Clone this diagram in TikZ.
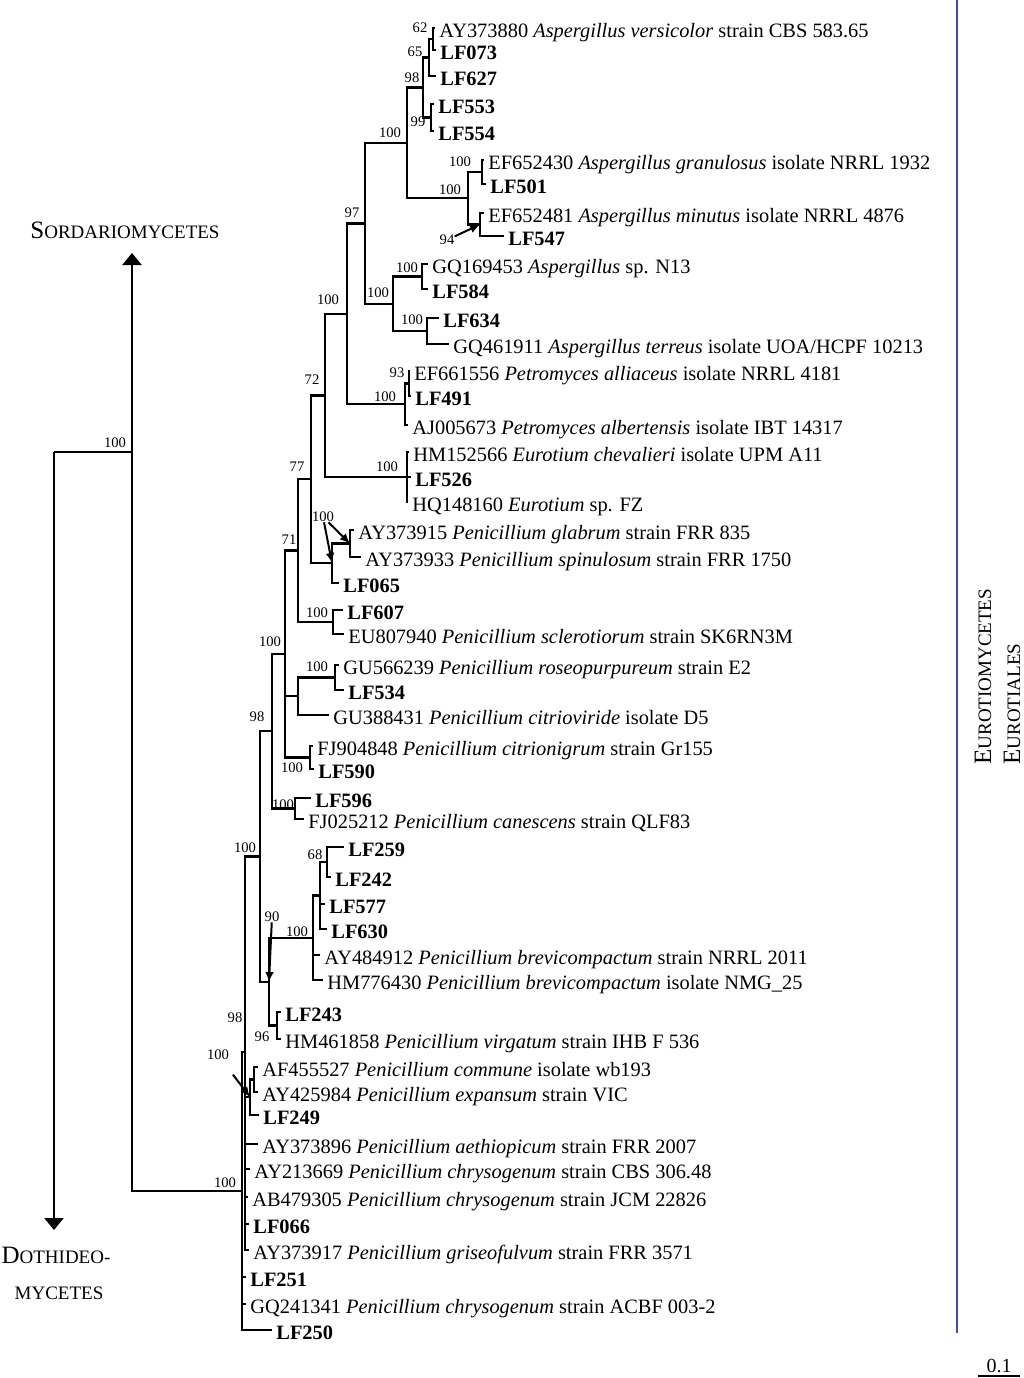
\documentclass[tikz,border=0pt]{standalone}
\usepackage{fontspec}
\setmainfont{Liberation Serif}
\usepackage{xcolor}
\usepackage{tikz}
\usetikzlibrary{arrows.meta,positioning,calc}
\definecolor{barblue}{RGB}{72,72,168}
\newcommand{\cladename}[2]{{\fontsize{12.5}{15}\selectfont #1}{\fontsize{9.5}{15}\selectfont #2}}
\tikzset{
leaf/.style = {anchor=west, inner xsep=2pt, inner ysep=0pt, text height=9.4pt, text depth=0pt, font=\fontsize{10.2}{12}\selectfont},
boot/.style = {inner sep=0pt, font=\fontsize{7.3}{9}\selectfont},
branch/.style = {line width=1.2pt},
pointer/.style = {line width=1pt, -{Latex[length=5pt,width=4.4pt]}},
outgroup/.style = {line width=1.2pt, -{Triangle[length=6pt,width=9.5pt]}},
clade/.style = {inner sep=0pt},
cladebar/.style = {barblue, line width=0.7pt},
}

\begin{document}
\begin{tikzpicture}[x=0.5pt, y=-0.5pt]
    \useasboundingbox (0,0) rectangle (1024,1378);

    \node [leaf] (AY373880) at (435,28) {AY373880 \textit{Aspergillus versicolor} strain CBS 583.65};
    \node [leaf] (LF073) at (436,50) {\textbf{LF073}};
    \node [leaf] (LF627) at (436,76) {\textbf{LF627}};
    \node [leaf] (LF553) at (434,104) {\textbf{LF553}};
    \node [leaf] (LF554) at (434,131) {\textbf{LF554}};
    \node [leaf] (EF652430) at (484,160) {EF652430 \textit{Aspergillus granulosus} isolate NRRL 1932};
    \node [leaf] (LF501) at (486,184) {\textbf{LF501}};
    \node [leaf] (EF652481) at (484,213) {EF652481 \textit{Aspergillus minutus} isolate NRRL 4876};
    \node [leaf] (LF547) at (504,236) {\textbf{LF547}};
    \node [leaf] (GQ169453) at (428,264) {GQ169453 \textit{Aspergillus} sp. N13};
    \node [leaf] (LF584) at (428,289) {\textbf{LF584}};
    \node [leaf] (LF634) at (439,318) {\textbf{LF634}};
    \node [leaf] (GQ461911) at (449,344) {GQ461911 \textit{Aspergillus terreus} isolate UOA/HCPF 10213};
    \node [leaf] (EF661556) at (410,371) {EF661556 \textit{Petromyces alliaceus} isolate NRRL 4181};
    \node [leaf] (LF491) at (411,396) {\textbf{LF491}};
    \node [leaf] (AJ005673) at (408,425) {AJ005673 \textit{Petromyces albertensis} isolate IBT 14317};
    \node [leaf] (HM152566) at (409,452) {HM152566 \textit{Eurotium chevalieri} isolate UPM A11};
    \node [leaf] (LF526) at (411,477) {\textbf{LF526}};
    \node [leaf] (HQ148160) at (408,502) {HQ148160 \textit{Eurotium} sp. FZ};
    \node [leaf] (AY373915) at (354,530) {AY373915 \textit{Penicillium glabrum} strain FRR 835};
    \node [leaf] (AY373933) at (361,557) {AY373933 \textit{Penicillium spinulosum} strain FRR 1750};
    \node [leaf] (LF065) at (339,583) {\textbf{LF065}};
    \node [leaf] (LF607) at (343,610) {\textbf{LF607}};
    \node [leaf] (EU807940) at (344,634) {EU807940 \textit{Penicillium sclerotiorum} strain SK6RN3M};
    \node [leaf] (GU566239) at (339,665) {GU566239 \textit{Penicillium roseopurpureum} strain E2};
    \node [leaf] (LF534) at (344,690) {\textbf{LF534}};
    \node [leaf] (GU388431) at (329,715) {GU388431 \textit{Penicillium citrioviride} isolate D5};
    \node [leaf] (FJ904848) at (313,746) {FJ904848 \textit{Penicillium citrionigrum} strain Gr155};
    \node [leaf] (LF590) at (314,769) {\textbf{LF590}};
    \node [leaf] (LF596) at (311,798) {\textbf{LF596}};
    \node [leaf] (FJ025212) at (304,819) {FJ025212 \textit{Penicillium canescens} strain QLF83};
    \node [leaf] (LF259) at (344,847) {\textbf{LF259}};
    \node [leaf] (LF242) at (331,877) {\textbf{LF242}};
    \node [leaf] (LF577) at (325,904) {\textbf{LF577}};
    \node [leaf] (LF630) at (327,929) {\textbf{LF630}};
    \node [leaf] (AY484912) at (320,955) {AY484912 \textit{Penicillium brevicompactum} strain NRRL 2011};
    \node [leaf] (HM776430) at (323,980) {HM776430 \textit{Penicillium brevicompactum} isolate NMG\_25};
    \node [leaf] (LF243) at (281,1012) {\textbf{LF243}};
    \node [leaf] (HM461858) at (281,1039) {HM461858 \textit{Penicillium virgatum} strain IHB F 536};
    \node [leaf] (AF455527) at (258,1067) {AF455527 \textit{Penicillium commune} isolate wb193};
    \node [leaf] (AY425984) at (258,1092) {AY425984 \textit{Penicillium expansum} strain VIC};
    \node [leaf] (LF249) at (259,1115) {\textbf{LF249}};
    \node [leaf] (AY373896) at (258,1144) {AY373896 \textit{Penicillium aethiopicum} strain FRR 2007};
    \node [leaf] (AY213669) at (250,1169) {AY213669 \textit{Penicillium chrysogenum} strain CBS 306.48};
    \node [leaf] (AB479305) at (248,1197) {AB479305 \textit{Penicillium chrysogenum} strain JCM 22826};
    \node [leaf] (LF066) at (249,1224) {\textbf{LF066}};
    \node [leaf] (AY373917) at (249,1250) {AY373917 \textit{Penicillium griseofulvum} strain FRR 3571};
    \node [leaf] (LF251) at (246,1277) {\textbf{LF251}};
    \node [leaf] (GQ241341) at (246,1304) {GQ241341 \textit{Penicillium chrysogenum} strain ACBF 003-2};
    \node [leaf] (LF250) at (272,1330) {\textbf{LF250}};

    \coordinate (nVers) at (433,39);
    \coordinate (nVers2) at (429,57.5);
    \coordinate (nLF553) at (431,117.5);
    \coordinate (nVers3) at (423,87.5);
    \coordinate (nGran) at (482,172);
    \coordinate (nMin) at (480,224.5);
    \coordinate (nGranMin) at (468,198);
    \coordinate (nAsp1) at (407,143);
    \coordinate (nN13) at (422,276.5);
    \coordinate (nTer) at (427,331);
    \coordinate (nAsp2) at (393,304);
    \coordinate (nAsp) at (365,223.5);
    \coordinate (nAll) at (409,383.5);
    \coordinate (nPetro) at (405,404);
    \coordinate (nAspPet) at (347,314);
    \coordinate (nEuro) at (407,477);
    \coordinate (nAspEur) at (325,395.5);
    \coordinate (nGlab) at (350,543.5);
    \coordinate (nLF065) at (332,563);
    \coordinate (nUpper) at (311,479);
    \coordinate (nScl) at (333,622);
    \coordinate (nUpper2) at (298,550.5);
    \coordinate (nRos) at (335,677.5);
    \coordinate (nCit) at (298,696);
    \coordinate (nCng) at (310,757.5);
    \coordinate (nPen1) at (285,654);
    \coordinate (nCan) at (295,808.5);
    \coordinate (nPen2) at (272,731);
    \coordinate (nLF259) at (327,862);
    \coordinate (nBrv2) at (320,895.5);
    \coordinate (nBrv) at (313,938);
    \coordinate (nVirg) at (277,1025.5);
    \coordinate (nBrvVirg) at (269,982);
    \coordinate (nPen3) at (260,856.5);
    \coordinate (nExp2) at (254,1079.5);
    \coordinate (nExp) at (250,1097);
    \coordinate (nChrys) at (245,1052);
    \coordinate (nEurotiales) at (242,1191);
    \coordinate (nSord) at (132,452);
    \coordinate (root) at (54,452);
    \coordinate (sordtip) at (132,253);
    \coordinate (dothtip) at (54,1230);

    \draw [branch] (nVers) |- (AY373880) (nVers) |- (LF073);
    \draw [branch] (nVers2) |- (nVers) (nVers2) |- (LF627);
    \draw [branch] (nLF553) |- (LF553) (nLF553) |- (LF554);
    \draw [branch] (nVers3) |- (nVers2) (nVers3) |- (nLF553);
    \draw [branch] (nGran) |- (EF652430) (nGran) |- (LF501);
    \draw [branch] (nMin) |- (EF652481) (nMin) |- (LF547);
    \draw [branch] (nGranMin) |- (nGran) (nGranMin) |- (nMin);
    \draw [branch] (nAsp1) |- (nVers3) (nAsp1) |- (nGranMin);
    \draw [branch] (nN13) |- (GQ169453) (nN13) |- (LF584);
    \draw [branch] (nTer) |- (LF634) (nTer) |- (GQ461911);
    \draw [branch] (nAsp2) |- (nN13) (nAsp2) |- (nTer);
    \draw [branch] (nAsp) |- (nAsp1) (nAsp) |- (nAsp2);
    \draw [branch] (nAll) |- (EF661556) (nAll) |- (LF491);
    \draw [branch] (nPetro) |- (nAll) (nPetro) |- (AJ005673);
    \draw [branch] (nAspPet) |- (nAsp) (nAspPet) |- (nPetro);
    \draw [branch] (nEuro) |- (HM152566) (nEuro) |- (LF526) (nEuro) |- (HQ148160);
    \draw [branch] (nAspEur) |- (nAspPet) (nAspEur) |- (nEuro);
    \draw [branch] (nGlab) |- (AY373915) (nGlab) |- (AY373933);
    \draw [branch] (nLF065) |- (nGlab) (nLF065) |- (LF065);
    \draw [branch] (nUpper) |- (nAspEur) (nUpper) |- (nLF065);
    \draw [branch] (nScl) |- (LF607) (nScl) |- (EU807940);
    \draw [branch] (nUpper2) |- (nUpper) (nUpper2) |- (nScl);
    \draw [branch] (nRos) |- (GU566239) (nRos) |- (LF534);
    \draw [branch] (nCit) |- (nRos) (nCit) |- (GU388431);
    \draw [branch] (nCng) |- (FJ904848) (nCng) |- (LF590);
    \draw [branch] (nPen1) |- (nUpper2) (nPen1) |- (nCit) (nPen1) |- (nCng);
    \draw [branch] (nCan) |- (LF596) (nCan) |- (FJ025212);
    \draw [branch] (nPen2) |- (nPen1) (nPen2) |- (nCan);
    \draw [branch] (nLF259) |- (LF259) (nLF259) |- (LF242);
    \draw [branch] (nBrv2) |- (nLF259) (nBrv2) |- (LF577) (nBrv2) |- (LF630);
    \draw [branch] (nBrv) |- (nBrv2) (nBrv) |- (AY484912) (nBrv) |- (HM776430);
    \draw [branch] (nVirg) |- (LF243) (nVirg) |- (HM461858);
    \draw [branch] (nBrvVirg) |- (nBrv) (nBrvVirg) |- (nVirg);
    \draw [branch] (nPen3) |- (nPen2) (nPen3) |- (nBrvVirg);
    \draw [branch] (nExp2) |- (AF455527) (nExp2) |- (AY425984);
    \draw [branch] (nExp) |- (nExp2) (nExp) |- (LF249);
    \draw [branch] (nChrys) |- (nPen3) (nChrys) |- (nExp) (nChrys) |- (AY373896)
        (nChrys) |- (AY213669) (nChrys) |- (AB479305) (nChrys) |- (LF066) (nChrys) |- (AY373917);
    \draw [branch] (nEurotiales) |- (nChrys) (nEurotiales) |- (LF251) (nEurotiales) |- (GQ241341) (nEurotiales) |- (LF250);
    \draw [branch] (nSord) |- (nEurotiales);
    \draw [branch] (root) -- (nSord);
    \draw [outgroup] (nSord) -- (sordtip);
    \draw [outgroup] (root) -- (dothtip);

    \node [boot] (bs62) at (420,28) {62};
    \node [boot] (bs65) at (415,52) {65};
    \node [boot] (bs98a) at (412,78) {98};
    \node [boot] (bs99) at (418,122) {99};
    \node [boot] (bsAsp1) at (390,133) {100};
    \node [boot] (bsGran) at (460,162) {100};
    \node [boot] (bsGranMin) at (450,190) {100};
    \node [boot] (bs97) at (352,213) {97};
    \node [boot] (bs94) at (447,240) {94};
    \node [boot] (bsN13) at (407,268) {100};
    \node [boot] (bsAsp2) at (378,293) {100};
    \node [boot] (bsAspPet) at (328,300) {100};
    \node [boot] (bsTer) at (412,320) {100};
    \node [boot] (bs72) at (312,380) {72};
    \node [boot] (bs93) at (397,373) {93};
    \node [boot] (bsPetro) at (385,397) {100};
    \node [boot] (bs77) at (297,467) {77};
    \node [boot] (bsEuro) at (387,467) {100};
    \node [boot] (bsGlab) at (323,517) {100};
    \node [boot] (bs71) at (289,540) {71};
    \node [boot] (bsScl) at (317,613) {100};
    \node [boot] (bsPen1) at (270,642) {100};
    \node [boot] (bsRos) at (317,667) {100};
    \node [boot] (bs98b) at (257,717) {98};
    \node [boot] (bsCng) at (292,768) {100};
    \node [boot] (bsCan) at (283,805) {100};
    \node [boot] (bsPen3) at (245,848) {100};
    \node [boot] (bs68) at (315,855) {68};
    \node [boot] (bs90) at (272,917) {90};
    \node [boot] (bsBrv) at (297,932) {100};
    \node [boot] (bs98c) at (235,1018) {98};
    \node [boot] (bs96) at (262,1037) {96};
    \node [boot] (bsExp) at (218,1055) {100};
    \node [boot] (bsEurotiales) at (225,1183) {100};
    \node [boot] (bsSord) at (115,443) {100};

    \draw [pointer] (bs94) -- (nMin);
    \draw [pointer] (bsGlab) -- (nGlab);
    \draw [pointer] (bsGlab) -- (nLF065);
    \draw [pointer] (bs90) -- (nBrvVirg);
    \draw [pointer, shorten <=9pt] (bsExp) -- (nExp);

    \node [clade] (sordario) at (125,230) {\cladename{S}{ORDARIOMYCETES}};
    \node [clade] (dothideo) at (56,1255) {\cladename{D}{OTHIDEO-}};
    \node [clade] (dothmyc) at (59,1293) {\fontsize{9.5}{12}\selectfont MYCETES};
    \node [clade, rotate=90, anchor=west] (eurotiomyc) at (983,765) {\cladename{E}{UROTIOMYCETES}};
    \node [clade, rotate=90, anchor=west] (eurotiales) at (1012,765) {\cladename{E}{UROTIALES}};

    \coordinate (bartop) at (957,0);
    \coordinate (barbot) at (957,1333);
    \draw [cladebar] (bartop) -- (barbot);

    \coordinate (scaleL) at (978,1376);
    \coordinate (scaleR) at (1020,1376);
    \draw [line width=0.7pt] (scaleL) -- node [above, inner sep=1.5pt, font=\fontsize{10}{12}\selectfont] (scalelbl) {0.1} (scaleR);
\end{tikzpicture}
\end{document}
